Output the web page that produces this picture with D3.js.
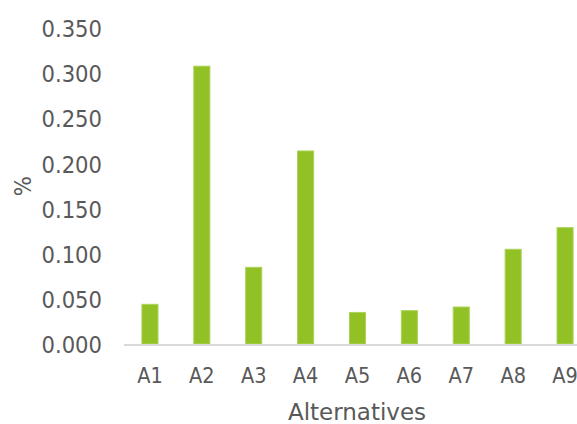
<!DOCTYPE html>
<html>
<head>
<meta charset="utf-8">
<script src="https://cdn.jsdelivr.net/npm/d3@7"></script>
<style>
  html, body { margin: 0; padding: 0; background: #fff; }
  svg text { font-family: "DejaVu Sans Condensed", "DejaVu Sans", sans-serif; font-stretch: condensed; fill: #595959; }
  svg text.title { font-family: "DejaVu Sans", sans-serif; font-stretch: normal; }
</style>
</head>
<body>
<svg id="chart" width="577" height="424"></svg>
<script>
const categories = ["A1", "A2", "A3", "A4", "A5", "A6", "A7", "A8", "A9"];
const values = [0.044, 0.308, 0.085, 0.214, 0.035, 0.037, 0.041, 0.105, 0.129];
const yTicks = [0, 0.05, 0.1, 0.15, 0.2, 0.25, 0.3, 0.35];
const xTitle = "Alternatives";
const yTitle = "%";

const svg = d3.select("#chart");
const plot = { left: 124, right: 591, top: 28.3, bottom: 344 };

const x = d3.scaleBand().domain(categories).range([plot.left, plot.right]).paddingInner(0.69).paddingOuter(0.345);
const y = d3.scaleLinear().domain([0, 0.35]).range([plot.bottom, plot.top]);

// bars
svg.append("g").selectAll("rect")
  .data(categories.map((c, i) => ({ c, v: values[i] })))
  .join("rect")
  .attr("x", d => x(d.c))
  .attr("y", d => y(d.v))
  .attr("width", x.bandwidth())
  .attr("height", d => y(0) - y(d.v))
  .attr("fill", "#92c125")
  .attr("stroke", "#acd35a")
  .attr("stroke-width", 1);

// baseline
svg.append("line")
  .attr("x1", plot.left).attr("x2", plot.right)
  .attr("y1", y(0) + 1).attr("y2", y(0) + 1)
  .attr("stroke", "#d9d9d9").attr("stroke-width", 2);

// y axis labels
const yAxis = d3.axisLeft(y).tickValues(yTicks).tickFormat(d3.format(".3f")).tickSize(0).tickPadding(0);
const gy = svg.append("g").attr("transform", "translate(102,0)").call(yAxis);
gy.select(".domain").remove();
gy.selectAll("text").attr("font-size", 23.5).style("fill", "#595959").attr("dy", "0.36em");

// x axis labels
const xAxis = d3.axisBottom(x).tickSize(0).tickPadding(0);
const gx = svg.append("g").attr("transform", `translate(0,${plot.bottom})`).call(xAxis);
gx.select(".domain").remove();
gx.selectAll("text").attr("font-size", 21.5).style("fill", "#595959").attr("y", 0).attr("dy", 0).attr("transform", "translate(0,39.3)");

// axis titles
svg.append("text")
  .attr("class", "title")
  .attr("x", 357).attr("y", 420)
  .attr("text-anchor", "middle").attr("font-size", 23)
  .text(xTitle);
svg.append("text")
  .attr("transform", `translate(31,${(plot.top + plot.bottom) / 2}) rotate(-90)`)
  .attr("text-anchor", "middle").attr("font-size", 23.5)
  .text(yTitle);
</script>
</body>
</html>
